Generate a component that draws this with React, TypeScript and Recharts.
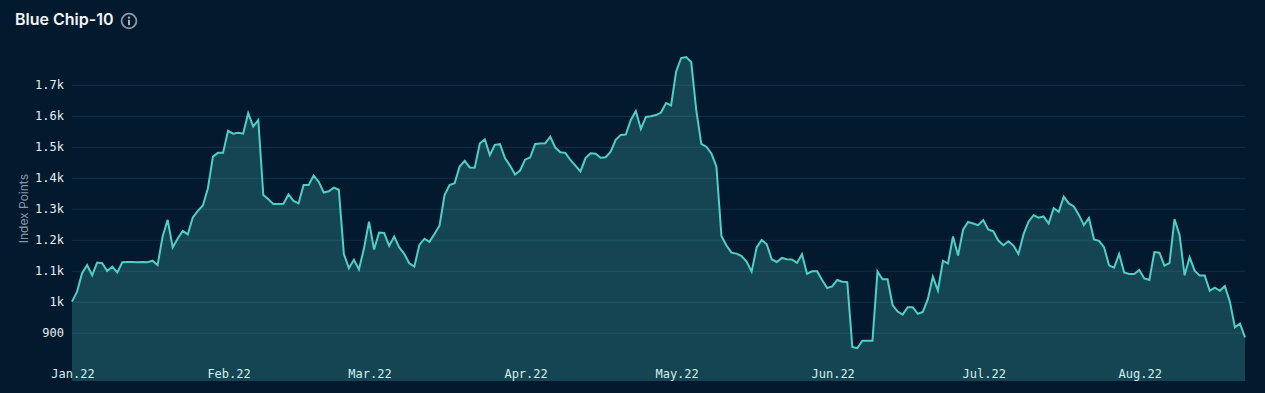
import React from "react";
import { Area, AreaChart, CartesianGrid, XAxis, YAxis } from "recharts";

const indexPoints = [
  1002, 1034, 1094, 1120, 1087, 1128, 1126, 1101, 1115, 1096,
  1129, 1130, 1130, 1129, 1130, 1129, 1134, 1120, 1212, 1266,
  1177, 1206, 1230, 1219, 1274, 1295, 1312, 1368, 1470, 1482,
  1482, 1553, 1544, 1547, 1544, 1610, 1567, 1588, 1346, 1332,
  1317, 1317, 1318, 1348, 1327, 1319, 1378, 1378, 1409, 1389,
  1354, 1358, 1370, 1363, 1156, 1110, 1137, 1106, 1174, 1260,
  1170, 1225, 1224, 1182, 1212, 1177, 1156, 1126, 1115, 1185,
  1205, 1195, 1220, 1247, 1346, 1378, 1384, 1438, 1456, 1435,
  1434, 1512, 1525, 1475, 1508, 1510, 1465, 1441, 1412, 1425,
  1460, 1467, 1511, 1512, 1513, 1534, 1499, 1484, 1482, 1459,
  1441, 1422, 1465, 1481, 1479, 1466, 1468, 1486, 1524, 1540,
  1541, 1588, 1617, 1559, 1598, 1600, 1604, 1612, 1643, 1635,
  1744, 1788, 1791, 1775, 1620, 1511, 1502, 1480, 1438, 1214,
  1183, 1160, 1157, 1149, 1131, 1099, 1177, 1201, 1187, 1138,
  1130, 1143, 1139, 1138, 1127, 1155, 1092, 1100, 1100, 1072,
  1046, 1051, 1072, 1066, 1065, 856, 852, 876, 876, 876,
  1099, 1074, 1074, 991, 970, 960, 984, 984, 963, 969,
  1010, 1083, 1038, 1134, 1125, 1212, 1151, 1234, 1259, 1254,
  1249, 1265, 1235, 1229, 1199, 1184, 1197, 1183, 1156, 1219,
  1260, 1281, 1273, 1277, 1254, 1304, 1292, 1341, 1319, 1309,
  1282, 1249, 1272, 1203, 1198, 1178, 1119, 1112, 1156, 1096,
  1091, 1091, 1104, 1077, 1072, 1162, 1160, 1118, 1126, 1268,
  1217, 1087, 1145, 1102, 1086, 1086, 1037, 1047, 1037, 1052,
  1002, 919, 931, 887,
];

// day offset from Jan 1 of each month label
const monthDays = [0, 31, 59, 90, 120, 151, 181, 212];
const monthLabels = ["Jan.22", "Feb.22", "Mar.22", "Apr.22", "May.22", "Jun.22", "Jul.22", "Aug.22"];
const yTicks = [900, 1000, 1100, 1200, 1300, 1400, 1500, 1600, 1700];

const data = indexPoints.map((value, day) => ({ day, value }));
const mono = "'DejaVu Sans Mono', 'Liberation Mono', monospace";

const formatY = (v: number) => (v >= 1000 ? `${v / 1000}k` : `${v}`);

const MonthTick = (props: any) => {
  const { x, y, payload } = props;
  return (
    <text x={x + 1} y={y} dy={-3} textAnchor="middle" fontFamily={mono} fontSize={12} fill="#d3eeee">
      {monthLabels[monthDays.indexOf(payload.value)]}
    </text>
  );
};

export default function App() {
  return (
    <div style={{ position: "fixed", left: 0, top: 0, width: 1265, height: 393, background: "#03192e", overflow: "hidden" }}>
      <div
        style={{
          position: "absolute",
          left: 15,
          top: 9,
          color: "#f2f5f7",
          fontFamily: "Inter, sans-serif",
          fontSize: 16,
          fontWeight: 600,
          lineHeight: "20px",
        }}
      >
        Blue Chip-10
      </div>
      <svg style={{ position: "absolute", left: 120, top: 12 }} width={18} height={18} viewBox="0 0 18 18">
        <circle cx={9} cy={9} r={7.4} fill="none" stroke="#8c98a4" strokeWidth={1.8} />
        <circle cx={9} cy={5.6} r={1.2} fill="#a9b3bc" />
        <rect x={8} y={7.8} width={2} height={5.4} fill="#a9b3bc" />
      </svg>
      <AreaChart
        width={1265}
        height={393}
        data={data}
        margin={{ top: 54.3, right: 20, bottom: 0, left: 0 }}
        style={{ position: "absolute", left: 0, top: 0 }}
      >
        <CartesianGrid vertical={false} horizontalValues={yTicks} stroke="#12304a" strokeWidth={1} />
        <XAxis
          dataKey="day"
          type="number"
          domain={[0, indexPoints.length - 1]}
          ticks={monthDays}
          tick={<MonthTick />}
          tickLine={false}
          axisLine={false}
          height={12}
          tickSize={0}
          tickMargin={0}
          interval={0}
        />
        <YAxis
          width={72}
          domain={[746, 1800]}
          allowDataOverflow
          ticks={yTicks}
          tickFormatter={formatY}
          tickLine={false}
          axisLine={false}
          interval={0}
          tick={{ fill: "#e8eef0", fontFamily: mono, fontSize: 12, dy: -1 }}
          label={{
            value: "Index Points",
            angle: -90,
            position: "insideLeft",
            dx: 19,
            dy: -9,
            style: { fill: "#8a97a5", fontFamily: "Inter, sans-serif", fontSize: 12, textAnchor: "middle" },
          }}
        />
        <Area
          type="linear"
          dataKey="value"
          stroke="#4fd0c6"
          strokeWidth={2}
          fill="#4fd0c6"
          fillOpacity={0.24}
          isAnimationActive={false}
          dot={false}
          activeDot={false}
        />
      </AreaChart>
    </div>
  );
}
